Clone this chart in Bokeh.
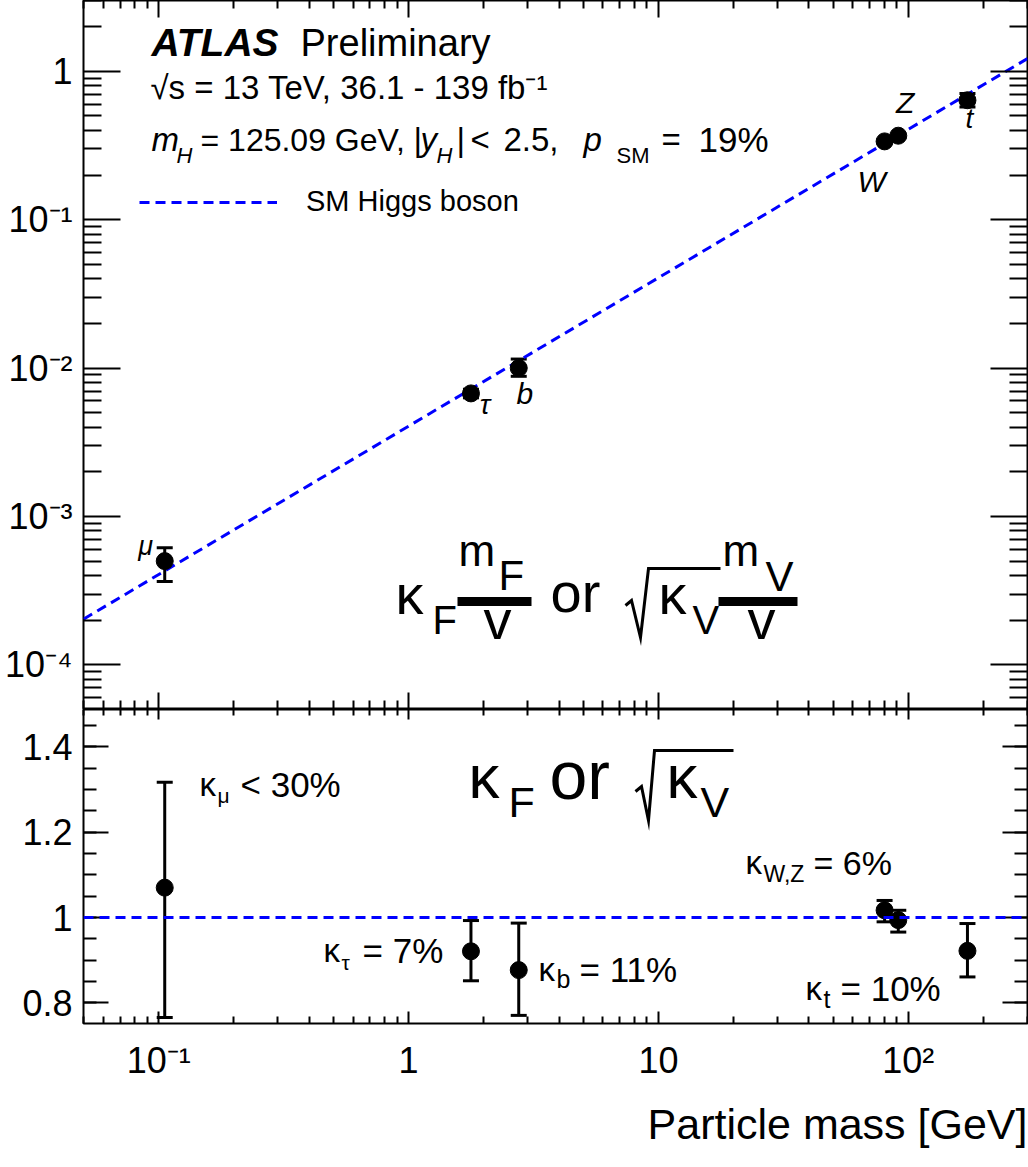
import math
import numpy as np
from bokeh.plotting import figure
from bokeh.layouts import column
from bokeh.models import (LogAxis, LinearAxis, FixedTicker, CustomJSTickFormatter, Whisker, TeeHead,
                          ColumnDataSource, Legend, LegendItem, Title, Range1d, Span)
from bokeh.core.properties import value
from bokeh.embed import file_html
from bokeh.resources import INLINE

FONT = "Liberation Sans"

# ---------------- data ----------------
particles = ["μ", "τ", "b", "W", "Z", "t"]
mass = [0.1057, 1.777, 2.76, 80.38, 91.19, 172.5]          # GeV
coupling = [5.0e-4, 6.75e-3, 1.0e-2, 0.337, 0.368, 0.638]   # kappa*m/v (or sqrt(kappa)*m/v)
coupling_lo = [3.64e-4, 6.3e-3, 8.8e-3, 0.328, 0.357, 0.575]
coupling_hi = [6.15e-4, 7.2e-3, 1.15e-2, 0.347, 0.379, 0.708]
kappa = [1.07, 0.921, 0.877, 1.017, 0.994, 0.922]
kappa_lo = [0.766, 0.852, 0.771, 0.990, 0.966, 0.861]
kappa_hi = [1.317, 0.993, 0.987, 1.040, 1.017, 0.986]
vev = 246.22
sm_mass = [0.05, 300.0]
sm_ratio = 1.0

x_ticks = [0.1, 1, 10, 100]
x_tick_labels = ["10⁻¹", "1", "10", "10²"]
ytop_ticks = [1e-4, 1e-3, 1e-2, 1e-1, 1]
ytop_tick_labels = ["10⁻⁴", "10⁻³", "10⁻²", "10⁻¹", "1"]
ybot_ticks = [0.8, 1.0, 1.2, 1.4]
ybot_tick_labels = ["0.8", "1", "1.2", "1.4"]
x_title = "Particle mass [GeV]"

# ---------------- layout geometry ----------------
XMIN, XMAX = 0.05, 300.0
YT_MIN, YT_MAX = 5e-5, 3.0
YB_MIN, YB_MAX = 0.752, 1.487
L, R = 83, 1027
TOP_Y0, TOP_Y1 = 0, 709
BOT_Y0, BOT_Y1 = 709, 1023
BASE_K = 0.38   # empirical baseline correction (fraction of font size)


def xpx(px):
    a, b = math.log10(XMIN), math.log10(XMAX)
    return 10 ** (a + (px - L) / (R - L) * (b - a))


def ytop(py):
    a, b = math.log10(YT_MIN), math.log10(YT_MAX)
    return 10 ** (b - (py - TOP_Y0) / (TOP_Y1 - TOP_Y0) * (b - a))


def ybot(py):
    return YB_MAX - (py - BOT_Y0) / (BOT_Y1 - BOT_Y0) * (YB_MAX - YB_MIN)


x_minor = [k * 10 ** e for e in range(-2, 3) for k in range(2, 10) if XMIN - 1e-12 <= k * 10 ** e <= XMAX + 1e-9]
yt_minor = [k * 10 ** e for e in range(-5, 1) for k in range(2, 10) if YT_MIN - 1e-15 <= k * 10 ** e <= YT_MAX + 1e-9]
yb_minor = [round(v, 2) for v in np.arange(0.75, 1.5, 0.05) if YB_MIN <= v <= YB_MAX]


def log_fmt(tvals, tlabels):
    return CustomJSTickFormatter(args=dict(tv=tvals, tl=tlabels), code="""
        for (let i = 0; i < tv.length; i++) {
            if (Math.abs(Math.log10(tick) - Math.log10(tv[i])) < 1e-6) return tl[i];
        }
        return '';""")


def lin_fmt(tvals, tlabels):
    return CustomJSTickFormatter(args=dict(tv=tvals, tl=tlabels), code="""
        for (let i = 0; i < tv.length; i++) {
            if (Math.abs(tick - tv[i]) < 1e-6) return tl[i];
        }
        return '';""")


def empty_fmt():
    return CustomJSTickFormatter(code="return '';")


def style_axis(ax, ticker, fmt, t_major, t_minor, labels=True, standoff=11):
    ax.ticker = ticker
    ax.axis_line_color = None
    ax.major_tick_in = t_major
    ax.major_tick_out = 0
    ax.minor_tick_in = t_minor
    ax.minor_tick_out = 0
    ax.major_tick_line_width = 2
    ax.minor_tick_line_width = 2
    ax.major_tick_line_color = "black"
    ax.minor_tick_line_color = "black"
    if labels:
        ax.formatter = fmt
        ax.major_label_text_font = FONT
        ax.major_label_text_font_size = "36px"
        ax.major_label_text_color = "black"
        ax.major_label_standoff = standoff
    else:
        ax.formatter = empty_fmt()
        ax.major_label_text_font_size = "0px"
        ax.major_label_standoff = 0


xr = Range1d(XMIN, XMAX)

# ---------------- top panel ----------------
top = figure(width=1028, height=709, x_axis_type="log", y_axis_type="log",
             x_range=xr, y_range=Range1d(YT_MIN, YT_MAX),
             output_backend="svg", toolbar_location=None,
             min_border_left=L, min_border_right=1, min_border_top=0, min_border_bottom=0)
top.grid.visible = False
top.outline_line_color = "black"
top.outline_line_width = 2
top.background_fill_color = "white"
top.border_fill_color = "white"

xt_ticker = FixedTicker(ticks=x_ticks, minor_ticks=x_minor)
yt_ticker = FixedTicker(ticks=ytop_ticks, minor_ticks=yt_minor)

style_axis(top.xaxis[0], xt_ticker, None, 17, 9, labels=False)
style_axis(top.yaxis[0], yt_ticker, log_fmt(ytop_ticks, ytop_tick_labels), 37, 18)
ax_r = LogAxis()
style_axis(ax_r, yt_ticker, None, 37, 18, labels=False)
top.add_layout(ax_r, "right")
ax_a = LogAxis()
style_axis(ax_a, xt_ticker, None, 17, 8, labels=False)
top.add_layout(ax_a, "above")

sm_line = top.line(x=sm_mass, y=[m / vev for m in sm_mass], line_color="#0000ff",
                   line_width=3, line_dash="10 6")

src_top = ColumnDataSource(dict(mass=mass, y=coupling, lo=coupling_lo, hi=coupling_hi))
top.add_layout(Whisker(source=src_top, base="mass", upper="hi", lower="lo", dimension="height",
                       line_width=3, line_color="black",
                       upper_head=TeeHead(size=16, line_width=3, line_color="black"),
                       lower_head=TeeHead(size=16, line_width=3, line_color="black")))
top.scatter(x="mass", y="y", source=src_top, size=17, color="black")

legend = Legend(items=[LegendItem(label="SM Higgs boson", renderers=[sm_line])],
                location=(56, 491), glyph_width=138, glyph_height=30, label_height=30,
                label_standoff=29, label_text_font=FONT, label_text_font_size="29px",
                label_text_color="black",
                border_line_color=None, background_fill_alpha=0, padding=0, margin=0, spacing=0)
top.add_layout(legend, "center")


def ttext(fig, cx, cy, px, py, s, size, style="normal", align="left"):
    fig.text(x=[cx(px)], y=[cy(py - BASE_K * size)], text=[s], text_font=value(FONT),
             text_font_size=value(f"{size}px"), text_font_style=style,
             text_align=align, text_baseline="alphabetic", text_color="black")


def tseg(fig, cx, cy, px0, py0, px1, py1, w):
    fig.segment(x0=[cx(px0)], y0=[cy(py0)], x1=[cx(px1)], y1=[cy(py1)],
                line_width=w, line_color="black")


def radical(fig, cx, cy, pts, w):
    fig.line(x=[cx(p[0]) for p in pts], y=[cy(p[1]) for p in pts], line_width=w,
             line_color="black", line_join="miter")


# particle labels next to the points (offsets in screen pixels)
lab_dx = [-19, 14, 6, -13, 7, 2]
lab_dy = [-5, 22, 37, 52, -22, 29]
lab_size = [27, 28, 30, 30, 30, 28]
for i, name in enumerate(particles):
    top.text(x=[mass[i]], y=[coupling[i]], text=[name], x_offset=lab_dx[i],
             y_offset=lab_dy[i] - BASE_K * lab_size[i],
             text_font=value(FONT), text_font_size=value(f"{lab_size[i]}px"),
             text_font_style="italic", text_align="center", text_baseline="alphabetic",
             text_color="black")

# ATLAS label block
ttext(top, xpx, ytop, 151, 57, "ATLAS", 39, style="bold italic")
ttext(top, xpx, ytop, 300, 57, "Preliminary", 38)
ttext(top, xpx, ytop, 150, 100, "√s = 13 TeV, 36.1 - 139 fb⁻¹", 33)
ttext(top, xpx, ytop, 151, 152, "m", 33, style="italic")
ttext(top, xpx, ytop, 176, 163, "H", 22, style="italic")
ttext(top, xpx, ytop, 200, 152, "= 125.09 GeV,", 32)
ttext(top, xpx, ytop, 413, 152, "|", 33)
ttext(top, xpx, ytop, 420, 152, "y", 33, style="italic")
ttext(top, xpx, ytop, 436, 163, "H", 22, style="italic")
ttext(top, xpx, ytop, 456, 152, "|", 33)
ttext(top, xpx, ytop, 470, 152, "<", 33)
ttext(top, xpx, ytop, 503, 152, "2.5,", 33)
ttext(top, xpx, ytop, 583, 152, "p", 33, style="italic")
ttext(top, xpx, ytop, 616, 163, "SM", 22)
ttext(top, xpx, ytop, 661, 152, "=", 33)
ttext(top, xpx, ytop, 698, 152, "19%", 35)

# formula in the top panel
ttext(top, xpx, ytop, 395, 615, "κ", 56)
ttext(top, xpx, ytop, 432, 635, "F", 40)
tseg(top, xpx, ytop, 457, 601, 531, 601, 9)
ttext(top, xpx, ytop, 458, 567, "m", 44)
ttext(top, xpx, ytop, 498, 591, "F", 42)
ttext(top, xpx, ytop, 497, 640, "v", 56, align="center")
ttext(top, xpx, ytop, 550, 613, "or", 56)
radical(top, xpx, ytop, [(625, 605), (631, 600), (640, 637), (648, 568), (720, 568)], 3)
ttext(top, xpx, ytop, 658, 615, "κ", 56)
ttext(top, xpx, ytop, 692, 635, "V", 40)
tseg(top, xpx, ytop, 718, 601, 797, 601, 9)
ttext(top, xpx, ytop, 722, 567, "m", 44)
ttext(top, xpx, ytop, 765, 592, "V", 42)
ttext(top, xpx, ytop, 761, 640, "v", 56, align="center")

# ---------------- bottom panel ----------------
bot = figure(width=1028, height=458, x_axis_type="log",
             x_range=xr, y_range=Range1d(YB_MIN, YB_MAX),
             output_backend="svg", toolbar_location=None,
             min_border_left=L, min_border_right=1, min_border_top=0, min_border_bottom=144)
bot.grid.visible = False
bot.outline_line_color = "black"
bot.outline_line_width = 2
bot.background_fill_color = "white"
bot.border_fill_color = "white"

yb_ticker = FixedTicker(ticks=ybot_ticks, minor_ticks=yb_minor)
style_axis(bot.xaxis[0], xt_ticker, log_fmt(x_ticks, x_tick_labels), 12, 7, standoff=16)
style_axis(bot.yaxis[0], yb_ticker, lin_fmt(ybot_ticks, ybot_tick_labels), 25, 13)
bax_r = LinearAxis()
style_axis(bax_r, yb_ticker, None, 25, 13, labels=False)
bot.add_layout(bax_r, "right")
bax_a = LogAxis()
style_axis(bax_a, xt_ticker, None, 10, 6, labels=False)
bot.add_layout(bax_a, "above")

bot.add_layout(Span(location=sm_ratio, dimension="width", line_color="#0000ff",
                    line_width=3, line_dash="10 6"))

src_bot = ColumnDataSource(dict(mass=mass, k=kappa, lo=kappa_lo, hi=kappa_hi))
bot.add_layout(Whisker(source=src_bot, base="mass", upper="hi", lower="lo", dimension="height",
                       line_width=3, line_color="black",
                       upper_head=TeeHead(size=16, line_width=3, line_color="black"),
                       lower_head=TeeHead(size=16, line_width=3, line_color="black")))
bot.scatter(x="mass", y="k", source=src_bot, size=17, color="black")

# precision labels
ttext(bot, xpx, ybot, 199, 797, "κ", 33)
ttext(bot, xpx, ybot, 217, 803, "μ", 21)
ttext(bot, xpx, ybot, 240, 797, "< 30%", 35)

ttext(bot, xpx, ybot, 323, 963, "κ", 33)
ttext(bot, xpx, ybot, 341, 970, "τ", 21)
ttext(bot, xpx, ybot, 362, 963, "= 7%", 35)

ttext(bot, xpx, ybot, 538, 982, "κ", 33)
ttext(bot, xpx, ybot, 556, 988, "b", 25)
ttext(bot, xpx, ybot, 579, 982, "= 11%", 35)

ttext(bot, xpx, ybot, 745, 875, "κ", 33)
ttext(bot, xpx, ybot, 763, 882, "W,Z", 23)
ttext(bot, xpx, ybot, 813, 875, "= 6%", 34)

ttext(bot, xpx, ybot, 805, 1001, "κ", 33)
ttext(bot, xpx, ybot, 823, 1008, "t", 25)
ttext(bot, xpx, ybot, 840, 1001, "= 10%", 35)

# formula in the bottom panel
ttext(bot, xpx, ybot, 468, 800, "κ", 62)
ttext(bot, xpx, ybot, 508, 818, "F", 43)
ttext(bot, xpx, ybot, 549, 800, "or", 68)
radical(bot, xpx, ybot, [(635, 791), (641, 786), (648, 820), (654, 750), (733, 750)], 3)
ttext(bot, xpx, ybot, 666, 800, "κ", 62)
ttext(bot, xpx, ybot, 700, 818, "V", 43)

# x-axis title, right-aligned under the frame
bot.add_layout(Title(text=x_title, align="right", text_font=FONT,
                     text_font_size="43px", text_font_style="normal", text_color="black",
                     vertical_align="top", standoff=32), "below")

layout = column(top, bot, spacing=0)
open("out.html", "w").write(file_html(layout, INLINE))
